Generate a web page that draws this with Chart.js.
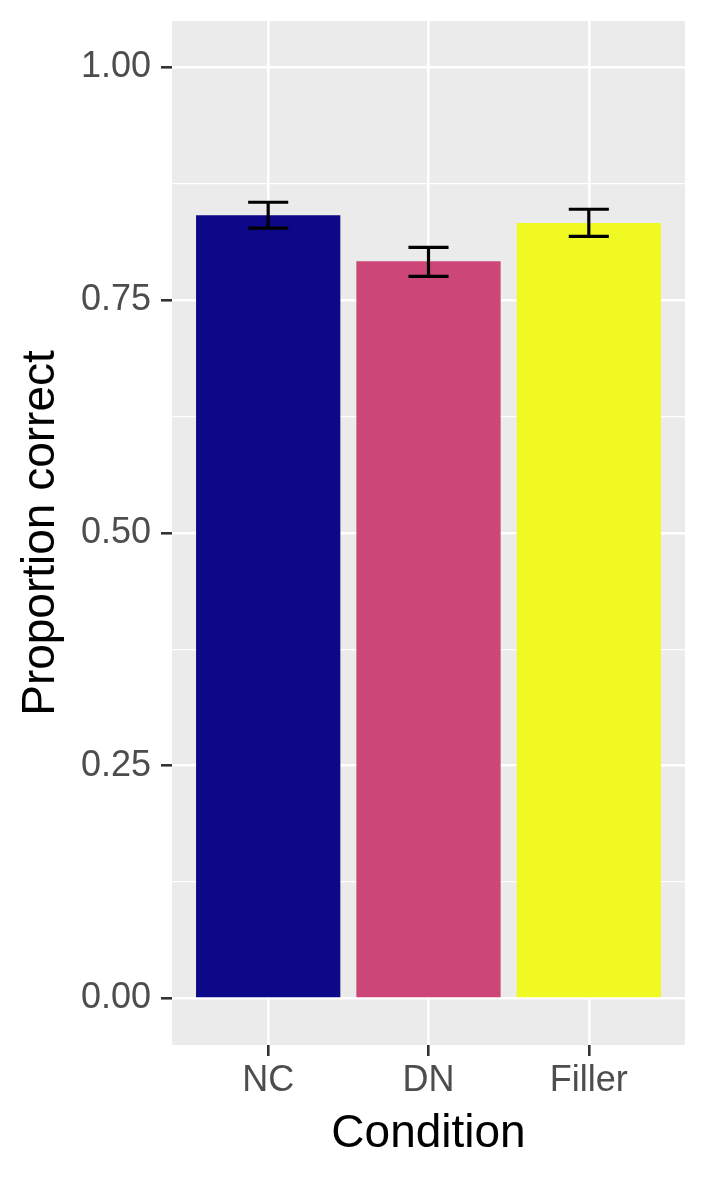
<!DOCTYPE html>
<html>
<head>
<meta charset="utf-8">
<script src="https://cdn.jsdelivr.net/npm/chart.js@4/dist/chart.umd.min.js"></script>
<style>
  html, body { margin: 0; padding: 0; background: #ffffff; }
  #wrap { width: 708px; height: 1181px; position: relative; }
</style>
</head>
<body>
<div id="wrap"><canvas id="c" width="708" height="1181"></canvas></div>
<script>
// ---- data ----
const categories = ["NC", "DN", "Filler"];
const positions = [1, 2, 3];
const meanCorrect = [0.8413, 0.7918, 0.8330];
const errLower = [0.8276, 0.7756, 0.8187];
const errUpper = [0.8553, 0.8068, 0.8478];
const barColors = ["#0D0887", "#CC4778", "#F0F921"];
const yMajorTicks = [0, 0.25, 0.5, 0.75, 1.0];
const yAllTicks = [0, 0.125, 0.25, 0.375, 0.5, 0.625, 0.75, 0.875, 1.0];
const yRange = [-0.05, 1.05];
const xRange = [0.4, 3.6];
const errCapHalfWidth = 0.125;

const isMajor = v => yMajorTicks.some(m => Math.abs(m - v) < 1e-9);

const panelBg = {
  id: 'panelBg',
  beforeDraw(chart) {
    const a = chart.chartArea, ctx = chart.ctx;
    ctx.save();
    ctx.fillStyle = '#EBEBEB';
    ctx.fillRect(a.left, a.top, a.right - a.left, a.bottom - a.top);
    ctx.restore();
  }
};

const errorBars = {
  id: 'errorBars',
  afterDatasetsDraw(chart) {
    const xs = chart.scales.x, ys = chart.scales.y, ctx = chart.ctx;
    ctx.save();
    ctx.strokeStyle = '#000000';
    ctx.lineWidth = 3.2;
    ctx.lineCap = 'butt';
    positions.forEach((p, i) => {
      const xc = xs.getPixelForValue(p);
      const xl = xs.getPixelForValue(p - errCapHalfWidth);
      const xr = xs.getPixelForValue(p + errCapHalfWidth);
      const yl = ys.getPixelForValue(errLower[i]);
      const yu = ys.getPixelForValue(errUpper[i]);
      ctx.beginPath();
      ctx.moveTo(xl, yu); ctx.lineTo(xr, yu);
      ctx.moveTo(xc, yu); ctx.lineTo(xc, yl);
      ctx.moveTo(xl, yl); ctx.lineTo(xr, yl);
      ctx.stroke();
    });
    ctx.restore();
  }
};

const FONT = "'Liberation Sans', Arial, sans-serif";

new Chart(document.getElementById('c'), {
  type: 'bar',
  data: {
    datasets: [{
      data: positions.map((p, i) => ({ x: p, y: meanCorrect[i] })),
      backgroundColor: barColors,
      borderWidth: 0,
      barPercentage: 0.9,
      categoryPercentage: 1.0
    }]
  },
  options: {
    responsive: false,
    animation: false,
    devicePixelRatio: 1,
    layout: { padding: { top: 21, right: 23, left: 0, bottom: 0 } },
    plugins: { legend: { display: false }, tooltip: { enabled: false } },
    scales: {
      x: {
        type: 'linear',
        offset: false,
        min: xRange[0], max: xRange[1],
        afterBuildTicks: s => { s.ticks = positions.map(v => ({ value: v })); },
        afterFit: s => { s.height = 136; s.paddingLeft = 0; s.paddingRight = 0; },
        border: { display: false },
        grid: {
          offset: false,
          color: '#FFFFFF', lineWidth: 2.6,
          drawTicks: true, tickLength: 11, tickColor: '#333333', tickWidth: 2.6
        },
        ticks: {
          autoSkip: false, maxRotation: 0, padding: 3,
          color: '#4D4D4D', font: { family: FONT, size: 36 },
          callback: (v, i) => categories[i]
        },
        title: {
          display: true, text: 'Condition', color: '#000000',
          font: { family: FONT, size: 46, lineHeight: 1 },
          padding: { top: 0, bottom: 24 }
        }
      },
      y: {
        type: 'linear',
        min: yRange[0], max: yRange[1],
        afterBuildTicks: s => { s.ticks = yAllTicks.map(v => ({ value: v })); },
        afterFit: s => { s.width = 172; s.paddingTop = 0; s.paddingBottom = 0; },
        border: { display: false },
        grid: {
          color: '#FFFFFF',
          lineWidth: c => isMajor(c.tick.value) ? 2.6 : 1.3,
          drawTicks: true, tickLength: 11,
          tickColor: c => isMajor(c.tick.value) ? '#333333' : 'rgba(0,0,0,0)',
          tickWidth: c => isMajor(c.tick.value) ? 2.6 : 0.01
        },
        ticks: {
          autoSkip: false, padding: 10,
          color: '#4D4D4D', font: { family: FONT, size: 36 },
          callback: v => isMajor(v) ? v.toFixed(2) : ''
        },
        title: {
          display: true, text: 'Proportion correct', color: '#000000',
          font: { family: FONT, size: 46, lineHeight: 1 },
          padding: { top: 18, bottom: 0 }
        }
      }
    }
  },
  plugins: [panelBg, errorBars]
});
</script>
</body>
</html>
